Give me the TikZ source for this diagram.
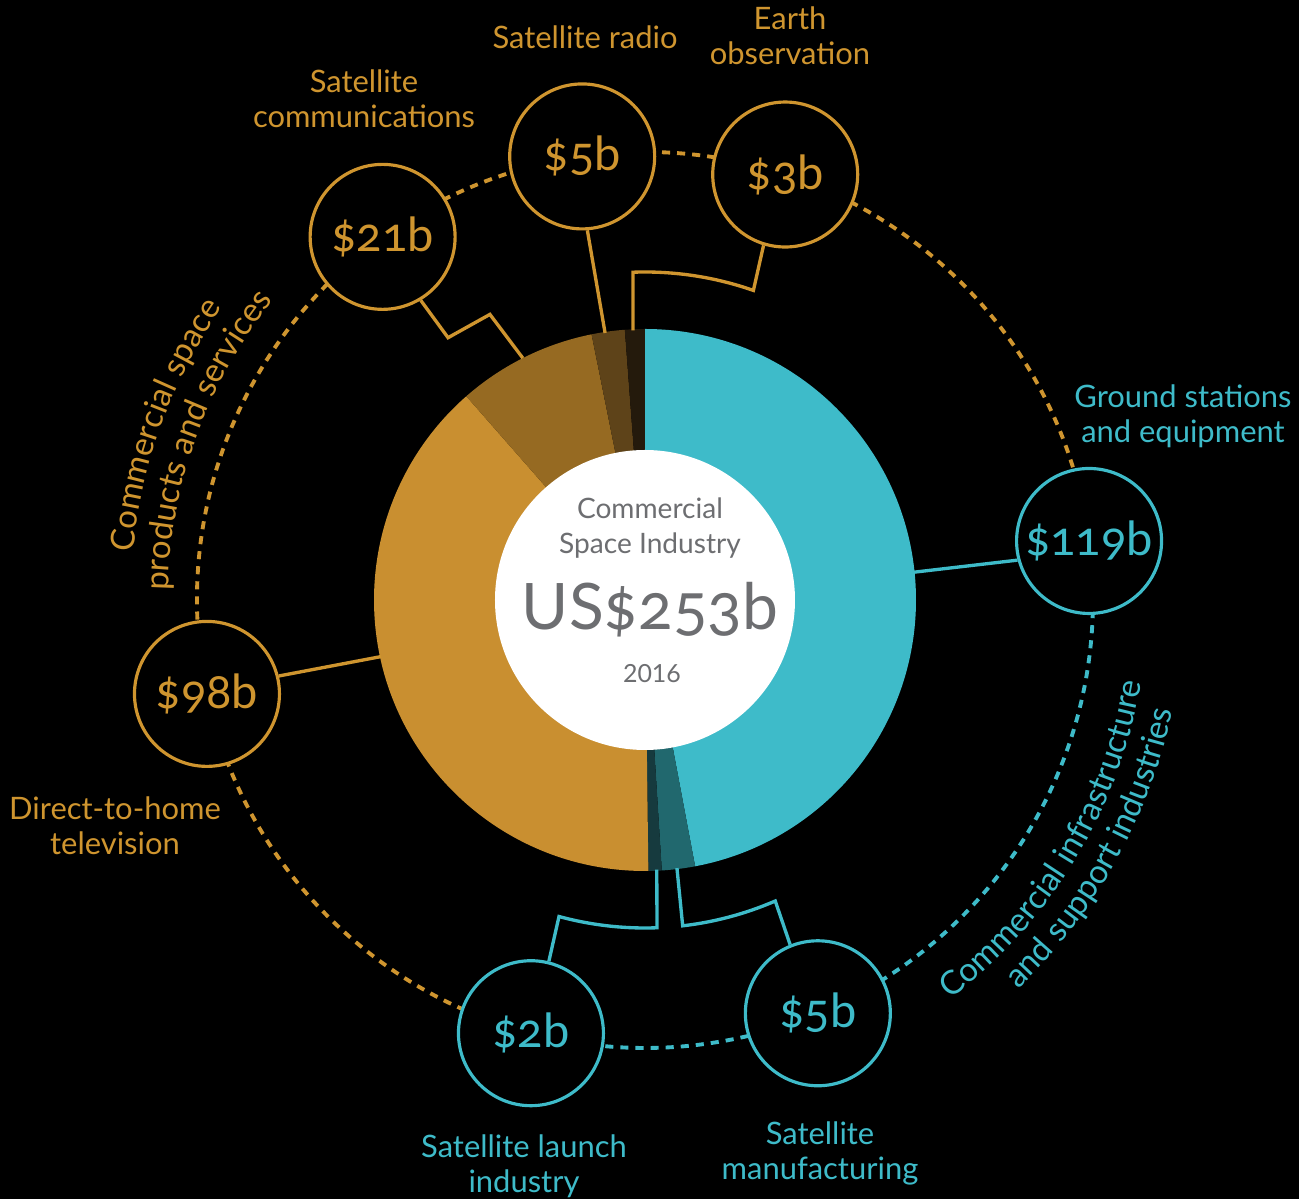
\documentclass[tikz,border=0pt]{standalone}
\usepackage{fontspec}
\setmainfont{Lato}
\newfontfamily\numfont[Numbers=OldStyle]{Lato}
\usetikzlibrary{calc,decorations.text,positioning}
\definecolor{spaceorange}{HTML}{CF952F}
\definecolor{spacecyan}{HTML}{3EBBC9}
\definecolor{segorange}{HTML}{C98F30}
\definecolor{segbrown}{HTML}{966A22}
\definecolor{segdark}{HTML}{5E4319}
\definecolor{segblack}{HTML}{241A0C}
\definecolor{segteal}{HTML}{21686E}
\definecolor{segdeep}{HTML}{163A3E}
\definecolor{centergray}{HTML}{6D6E71}
\newcommand{\curvefont}{\fontsize{18.8}{20}\selectfont}
\tikzset{%
	valbubble/.style  = {draw=#1, text=#1, circle, fill=black, line width=1.8pt, minimum size=2.9cm, inner sep=0pt, font=\numfont\fontsize{26.8}{27}\selectfont},
	sectorname/.style = {align=center, font=\fontsize{17.6}{19.9}\selectfont},
	link/.style       = {line width=1.9pt},
	ring/.style       = {line width=2.2pt, dash pattern=on 4.6pt off 4pt},
	centertext/.style = {centergray, align=center},
}
\begin{document}
\begin{tikzpicture}[x=0.02cm, y=0.02cm]
	\useasboundingbox[fill=black] (-645,-599) rectangle (654,600);
	% dashed ring through the bubbles
	\draw[ring, spaceorange] (7.57:448) arc[start angle=7.57, end angle=255.25, radius=448];
	\draw[ring, spacecyan] (255.25:448) arc[start angle=255.25, end angle=367.57, radius=448];
	
	% donut, clockwise from the top
	\foreach \a/\b/\col in {90/-79.33/spacecyan, -79.33/-86.44/segteal, -86.44/-89.29/segdeep, -89.29/-228.74/segorange, 131.26/101.38/segbrown, 101.38/94.27/segdark, 94.27/90/segblack}
		\fill[\col] (0,0) -- (\a:271) arc[start angle=\a, end angle=\b, radius=271] -- cycle;
	\fill[white] (0,0) circle[radius=150];
	
	\node[centertext, font=\fontsize{16}{20}\selectfont] (ttl) at (5,72) {Commercial\\Space Industry};
	\node[centertext, anchor=base, font=\numfont\fontsize{36.5}{36}\selectfont] (total) at (5,-30) {US\$253b};
	\node[centertext, anchor=base, font=\fontsize{14.2}{16}\selectfont] (yr) at (7,-83) {2016};
	
	% bubbles
	\node[valbubble=spaceorange] (c21) at (125.85:448) {\$21b};
	\node[valbubble=spaceorange] (c5t) at (98.06:448) {\$5b};
	\node[valbubble=spaceorange] (c3) at (71.76:448) {\$3b};
	\node[valbubble=spacecyan] (c119) at (7.57:448) {\$119b};
	\node[valbubble=spaceorange] (c98) at (192.1:448) {\$98b};
	\node[valbubble=spacecyan] (c2) at (255.25:448) {\$2b};
	\node[valbubble=spacecyan] (c5b) at (292.7:448) {\$5b};
	
	% connectors
	\coordinate (d21) at (116.8:271);
	\coordinate (d5t) at (98.5:270);
	\coordinate (d3) at (92.54:270);
	\coordinate (d119) at (5.9:270);
	\coordinate (d98) at (192.1:270);
	\coordinate (d2) at (-87.5:270);
	\coordinate (d5b) at (-83.2:270);
	\draw[link, spaceorange] (d21) -- (118.5:325) -- (126.9:328) -- (c21.-59);
	\draw[link, spaceorange] (d5t) -- (c5t.-86);
	\draw[link, spaceorange] (d3) -- (92.1:328) arc[start angle=92.1, end angle=70.7, radius=328] -- (c3.-107);
	\draw[link, spacecyan] (d119) -- (c119.195);
	\draw[link, spaceorange] (d98) -- (c98.14);
	\draw[link, spacecyan] (d2) -- (-87.9:328) arc[start angle=-87.9, end angle=-105.2, radius=328] -- (c2.76);
	\draw[link, spacecyan] (d5b) -- (-83.4:328) arc[start angle=-83.4, end angle=-66.6, radius=328] -- (c5b.112);
	
	% names
	\node[sectorname, spaceorange] (ncom) at (-281,501) {Satellite\\communications};
	\node[sectorname, spaceorange] (nrad) at (-60,563) {Satellite radio};
	\node[sectorname, spaceorange] (nobs) at (145,564) {Earth\\observation};
	\node[sectorname, spacecyan] (ngnd) at (538,184) {Ground stations\\and equipment};
	\node[sectorname, spaceorange] (ntv) at (-530,-226) {Direct-to-home\\television};
	\node[sectorname, spacecyan] (nlau) at (-121,-566) {Satellite launch\\industry};
	\node[sectorname, spacecyan] (nman) at (175,-553) {Satellite\\manufacturing};
	
	% curved group names
	\path[decorate, decoration={text along path, text align=center, text={|\curvefont\color{spaceorange}|Commercial space}}] (210:514) arc[start angle=210, end angle=110, radius=514];
	\path[decorate, decoration={text along path, text align=center, text={|\curvefont\color{spaceorange}|products and services}}] (210:477) arc[start angle=210, end angle=110, radius=477];
	\path[decorate, decoration={text along path, text align=center, text={|\curvefont\color{spacecyan}|Commercial infrastructure}}] (-81:503) arc[start angle=-81, end angle=19, radius=503];
	\path[decorate, decoration={text along path, text align=center, text={|\curvefont\color{spacecyan}|and support industries}}] (-79:539) arc[start angle=-79, end angle=21, radius=539];
\end{tikzpicture}
\end{document}
